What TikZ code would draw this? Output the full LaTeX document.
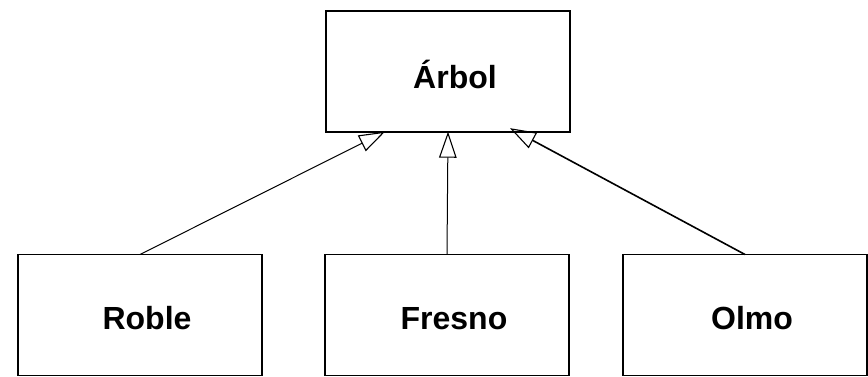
\documentclass[tikz,border=0pt]{standalone}
\usepackage{fontspec}
\setmainfont{Liberation Sans}
\usetikzlibrary{arrows.meta}
\tikzset{
  classbox/.style={draw, line width=1.8pt, minimum width=244pt, minimum height=121pt, inner sep=0pt, outer sep=0pt, fill=white},
  txt/.style={xshift=7pt, yshift=-3.5pt, inner sep=0pt, font=\bfseries\fontsize{32}{38}\selectfont},
  inherit/.style={-{Triangle[open, length=26pt, width=17.5pt, line width=1.1pt]}},
}
\begin{document}
\begin{tikzpicture}[x=1pt, y=-1pt]
\useasboundingbox[fill=white] (0,0) rectangle (868,377);
\node[classbox, label={[txt]center:Árbol}] (arbol) at (448,71.2) {};
\node[classbox, label={[txt]center:Roble}] (roble) at (140,315) {};
\node[classbox, label={[txt]center:Fresno}] (fresno) at (447,315) {};
\node[classbox, label={[txt]center:Olmo}] (olmo) at (745,315) {};
\coordinate (t1) at ([xshift=-63pt]arbol.south);
\coordinate (t3) at ([xshift=62pt, yshift=3.5pt]arbol.south);
\draw[inherit, line width=1pt] (roble.north) -- (t1);
\draw[inherit, line width=1pt] (fresno.north) -- (arbol.south);
\draw[inherit, line width=1.6pt] (olmo.north) -- (t3);
\end{tikzpicture}
\end{document}
